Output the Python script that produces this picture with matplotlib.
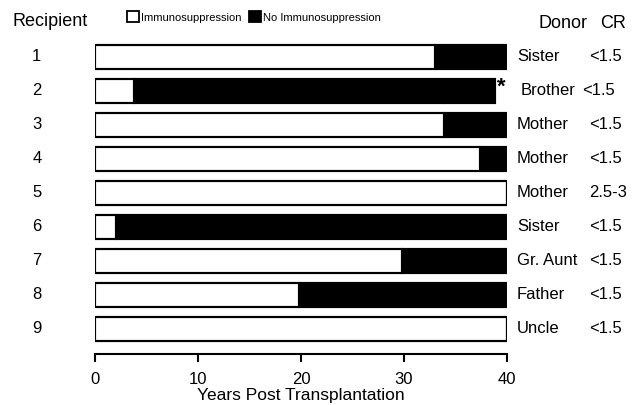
import matplotlib
matplotlib.use("Agg")
import matplotlib.pyplot as plt
import matplotlib.transforms as mtransforms
from matplotlib.patches import Patch

plt.rcParams["font.family"] = ["Liberation Sans", "DejaVu Sans"]

RECIPIENTS = [1, 2, 3, 4, 5, 6, 7, 8, 9]
IMMUNO_YEARS = [33, 3.8, 33.9, 37.4, 40, 2, 29.8, 19.8, 40]
TOTAL_YEARS = [40, 38.8, 40, 40, 40, 40, 40, 40, 40]
DONORS = ["Sister", "Brother", "Mother", "Mother", "Mother", "Sister", "Gr. Aunt", "Father", "Uncle"]
CR = ["<1.5", "<1.5", "<1.5", "<1.5", "2.5-3", "<1.5", "<1.5", "<1.5", "<1.5"]
STARRED = [2]


def main():
    fig = plt.figure(figsize=(6.33, 4.05), dpi=100)
    ax = fig.add_axes([0.150, 0.126, 0.651, 0.795])

    no_immuno = [t - i for t, i in zip(TOTAL_YEARS, IMMUNO_YEARS)]
    ax.barh(RECIPIENTS, IMMUNO_YEARS, height=0.7, color="white",
            edgecolor="black", linewidth=1.5)
    ax.barh(RECIPIENTS, no_immuno, left=IMMUNO_YEARS, height=0.7,
            color="black", edgecolor="black", linewidth=1.5)
    # outline around whole bar
    ax.barh(RECIPIENTS, TOTAL_YEARS, height=0.7, fill=False,
            edgecolor="black", linewidth=1.5)

    for r in STARRED:
        ax.text(TOTAL_YEARS[r - 1] + 0.25, r - 0.1, "*", fontsize=16,
                fontweight="bold", va="center", ha="left")

    ax.set_xlim(0, 40)
    ax.set_ylim(9.735, 0.265)
    ax.set_xticks([0, 10, 20, 30, 40])
    ax.tick_params(axis="x", labelsize=12, width=1.5, length=6,
                   direction="out", pad=7)
    ax.set_yticks([])
    for side in ["top", "right", "left"]:
        ax.spines[side].set_visible(False)
    ax.spines["bottom"].set_linewidth(1.5)
    ax.set_xlabel("Years Post Transplantation", fontsize=12.5, labelpad=1)

    trans = mtransforms.blended_transform_factory(ax.transAxes, ax.transData)
    for r, donor, cr in zip(RECIPIENTS, DONORS, CR):
        shift = 0.008 if r in STARRED else 0.0
        ax.text(-0.141, r, str(r), transform=trans, fontsize=12,
                ha="center", va="center")
        ax.text(1.024 + shift, r, donor, transform=trans, fontsize=12,
                ha="left", va="center")
        ax.text(1.199 - 2 * shift, r, cr, transform=trans, fontsize=12,
                ha="left", va="center")

    fig.text(50 / 633, 1 - 21 / 405, "Recipient", fontsize=13, ha="center", va="center")
    fig.text(563 / 633, 1 - 23 / 405, "Donor", fontsize=13, ha="center", va="center")
    fig.text(613 / 633, 1 - 23 / 405, "CR", fontsize=13, ha="center", va="center")

    handles = [Patch(facecolor="white", edgecolor="black", linewidth=1.3),
               Patch(facecolor="black", edgecolor="black", linewidth=1.3)]
    fig.legend(handles, ["Immunosuppression", "No Immunosuppression"],
               loc="center", bbox_to_anchor=(254 / 633, 1 - 17 / 405),
               ncol=2, frameon=False, fontsize=8, handlelength=1.1,
               handleheight=1.1, handletextpad=0.2, columnspacing=0.6)

    fig.savefig("out.png", dpi=100)


if __name__ == "__main__":
    main()
